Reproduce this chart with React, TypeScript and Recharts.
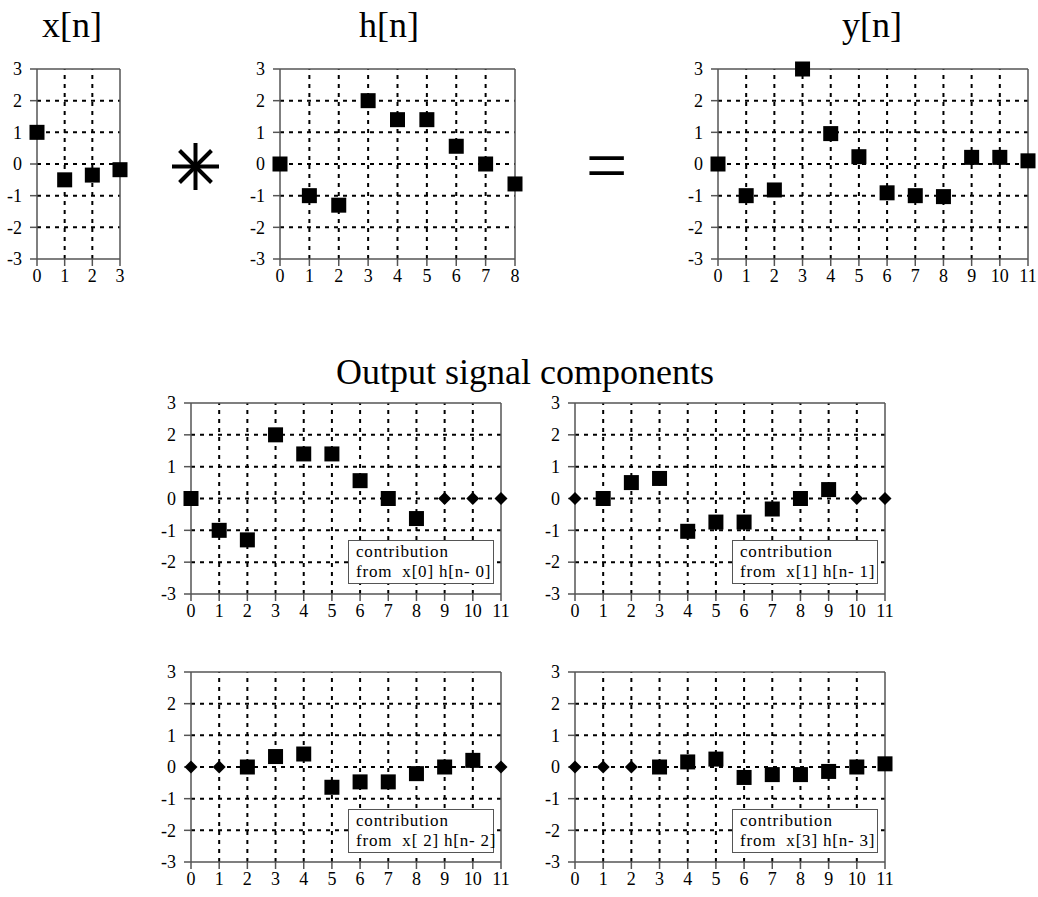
import React from "react";
import { ScatterChart, Scatter, XAxis, YAxis, ReferenceLine } from "recharts";

const FONT = '"Liberation Serif", "Times New Roman", Times, serif';

// signals
const xn = [1, -0.5, -0.35, -0.18];
const hn = [0, -1, -1.3, 2, 1.4, 1.4, 0.56, 0, -0.63];
const yn = [0, -1, -0.82, 3, 0.96, 0.23, -0.91, -1, -1.03, 0.21, 0.21, 0.1];

// output components x[k] h[n-k], non-zero part starts at n = k
const comp0 = [0, -1, -1.3, 2, 1.4, 1.4, 0.56, 0, -0.63];
const comp1 = [0, 0.5, 0.63, -1.03, -0.74, -0.74, -0.33, 0, 0.28];
const comp2 = [0, 0.33, 0.41, -0.64, -0.47, -0.47, -0.21, 0, 0.21];
const comp3 = [0, 0.16, 0.25, -0.33, -0.24, -0.24, -0.14, 0, 0.1];
const compShift = [0, 1, 2, 3];
const compLabels = [
  "from  x[0] h[n- 0]",
  "from  x[1] h[n- 1]",
  "from  x[ 2] h[n- 2]",
  "from  x[3] h[n- 3]",
];
const outLen = 12;

const yTicks = [-3, -2, -1, 0, 1, 2, 3];

type Pt = { n: number; v: number };

const toPoints = (vals: number[], shift = 0): Pt[] =>
  vals.map((v, i) => ({ n: i + shift, v }));

const zeroPoints = (len: number, vals: number[], shift: number): Pt[] => {
  const out: Pt[] = [];
  for (let i = 0; i < len; i++) {
    if (i < shift || i >= shift + vals.length) out.push({ n: i, v: 0 });
  }
  return out;
};

const Square = (p: any) => (
  <rect x={p.cx - 7.5} y={p.cy - 7.5} width={15} height={15} fill="#000" />
);

const Diamond = (p: any) => (
  <polygon
    points={`${p.cx},${p.cy - 6.5} ${p.cx + 6.5},${p.cy} ${p.cx},${p.cy + 6.5} ${p.cx - 6.5},${p.cy}`}
    fill="#000"
  />
);

const XTick = (p: any) => (
  <text
    x={p.x}
    y={p.y}
    dy="0.71em"
    textAnchor="middle"
    fontFamily={FONT}
    fontSize={18}
    fill="#000"
  >
    {p.payload.value}
  </text>
);

const YTick = (p: any) => (
  <text
    x={p.x}
    y={p.y}
    dy="0.35em"
    textAnchor="end"
    fontFamily={FONT}
    fontSize={18}
    fill="#000"
  >
    {p.payload.value}
  </text>
);

const frame = { stroke: "#555", strokeWidth: 1.5 };

function Plot({
  len,
  squares,
  diamonds = [],
  box,
  legend,
}: {
  len: number;
  squares: Pt[];
  diamonds?: Pt[];
  box: [number, number, number, number];
  legend?: string;
}) {
  const [L, T, R, B] = box;
  const padL = 45,
    padR = 15,
    padT = 12,
    padB = 35;
  const xTicks = Array.from({ length: len }, (_, i) => i);
  const last = len - 1;
  return (
    <div
      style={{
        position: "absolute",
        left: L - padL,
        top: T - padT,
        fontFamily: FONT,
      }}
    >
      <ScatterChart
        width={R - L + padL + padR}
        height={B - T + padT + padB}
        margin={{ top: padT, right: padR, left: padL - 40, bottom: padB - 30 }}
      >
        <XAxis
          type="number"
          dataKey="n"
          domain={[0, last]}
          ticks={xTicks}
          interval={0}
          height={30}
          axisLine={frame}
          tickLine={frame}
          tickSize={7}
          tickMargin={3}
          tick={XTick}
        />
        <YAxis
          type="number"
          dataKey="v"
          domain={[-3, 3]}
          ticks={yTicks}
          interval={0}
          width={40}
          axisLine={frame}
          tickLine={frame}
          tickSize={7}
          tickMargin={8}
          tick={YTick}
        />
        {xTicks.slice(1, -1).map((t) => (
          <ReferenceLine
            key={"gx" + t}
            x={t}
            stroke="#000"
            strokeWidth={2}
            strokeDasharray="4 5"
          />
        ))}
        {yTicks.slice(1, -1).map((t) => (
          <ReferenceLine
            key={"gy" + t}
            y={t}
            stroke="#000"
            strokeWidth={2}
            strokeDasharray="4 5"
          />
        ))}
        <ReferenceLine x={last} {...frame} />
        <ReferenceLine y={3} {...frame} />
        <Scatter data={diamonds} shape={Diamond} isAnimationActive={false} />
        <Scatter data={squares} shape={Square} isAnimationActive={false} />
      </ScatterChart>
      {legend && (
        <div
          style={{
            position: "absolute",
            left: padL + 157,
            top: padT + 137,
            width: 146,
            height: 44,
            boxSizing: "border-box",
            border: "1px solid #555",
            background: "#fff",
            fontFamily: FONT,
            fontSize: 17,
            letterSpacing: 0.8,
            lineHeight: "20px",
            padding: "1px 0 0 7px",
            whiteSpace: "pre",
            color: "#000",
          }}
        >
          {"contribution\n" + legend}
        </div>
      )}
    </div>
  );
}

const bottomBoxes: [number, number, number, number][] = [
  [191, 403, 501, 594],
  [575, 403, 885, 594],
  [191, 672, 501, 862],
  [575, 672, 885, 862],
];

export default function App() {
  const comps = [comp0, comp1, comp2, comp3];
  return (
    <div
      style={{
        position: "absolute",
        left: 0,
        top: 0,
        width: 1038,
        height: 897,
        background: "#fff",
        fontFamily: FONT,
      }}
    >
      <svg
        width={1038}
        height={897}
        style={{ position: "absolute", left: 0, top: 0 }}
      >
        <g fontFamily={FONT} fill="#000" textAnchor="middle">
          <text x={72} y={37} fontSize={36}>
            x[n]
          </text>
          <text x={389} y={37} fontSize={36}>
            h[n]
          </text>
          <text x={872} y={37} fontSize={36}>
            y[n]
          </text>
          <text x={525} y={384} fontSize={36}>
            Output signal components
          </text>
          <text x={606.5} y={190} fontSize={74}>
            =
          </text>
        </g>
        <g stroke="#000" strokeWidth={4}>
          {[0, 45, 90, 135].map((a) => {
            const r = (a * Math.PI) / 180;
            const len = a % 90 === 0 ? 23.5 : 22.6;
            return (
              <line
                key={a}
                x1={195.5 - len * Math.cos(r)}
                y1={166.5 - len * Math.sin(r)}
                x2={195.5 + len * Math.cos(r)}
                y2={166.5 + len * Math.sin(r)}
              />
            );
          })}
        </g>
      </svg>
      <Plot len={xn.length} squares={toPoints(xn)} box={[37, 69, 120, 259]} />
      <Plot len={hn.length} squares={toPoints(hn)} box={[280, 69, 515, 259]} />
      <Plot len={yn.length} squares={toPoints(yn)} box={[718, 69, 1028, 259]} />
      {comps.map((c, k) => (
        <Plot
          key={k}
          len={outLen}
          squares={toPoints(c, compShift[k])}
          diamonds={zeroPoints(outLen, c, compShift[k])}
          box={bottomBoxes[k]}
          legend={compLabels[k]}
        />
      ))}
    </div>
  );
}
